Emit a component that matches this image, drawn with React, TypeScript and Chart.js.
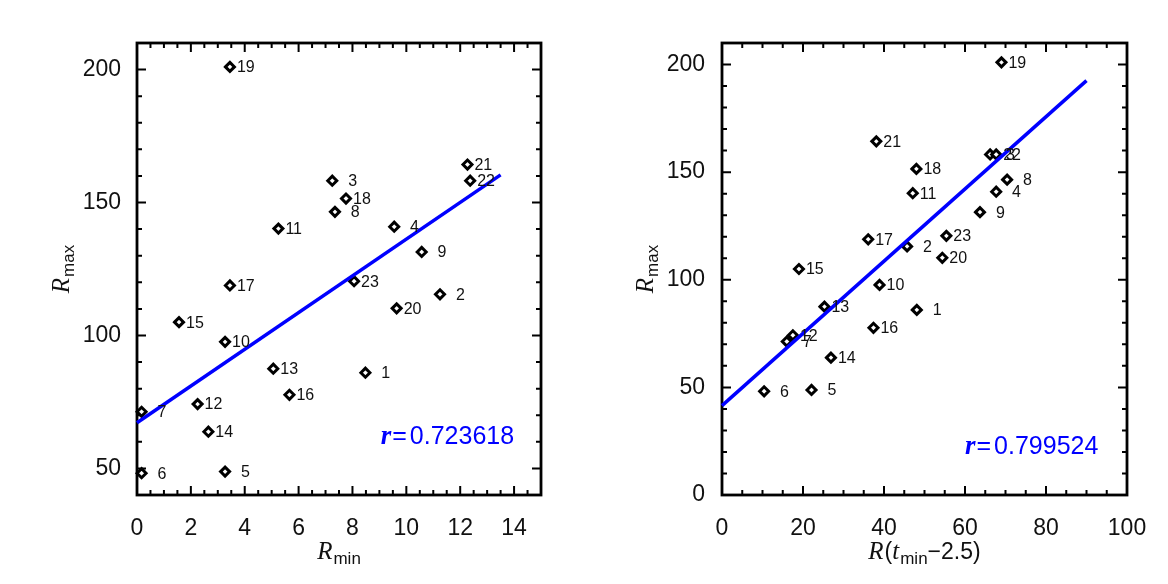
import React, { useEffect, useRef } from 'react';
import { Chart, registerables } from 'chart.js';

Chart.register(...registerables);

// ---- data ----
const eventIds = [1, 2, 3, 4, 5, 6, 7, 8, 9, 10, 11, 12, 13, 14, 15, 16, 17, 18, 19, 20, 21, 22, 23];
const rMax = [86.0, 115.5, 158.2, 140.9, 48.8, 48.2, 71.3, 146.5, 131.4, 97.6, 140.2, 74.2, 87.5, 63.8, 105.0, 77.7, 118.8, 151.5, 201.0, 110.2, 164.3, 158.2, 120.4];
const rMin = [8.48, 11.25, 7.25, 9.55, 3.27, 0.17, 0.17, 7.35, 10.57, 3.27, 5.25, 2.25, 5.06, 2.65, 1.56, 5.66, 3.45, 7.76, 3.45, 9.64, 12.27, 12.37, 8.06];
const rTmin = [48.1, 45.7, 66.2, 67.7, 22.1, 10.4, 16.0, 70.4, 63.7, 38.9, 47.1, 17.5, 25.3, 26.9, 19.0, 37.4, 36.1, 48.0, 69.0, 54.4, 38.1, 67.7, 55.4];

const leftFitX = [0, 13.5];
const leftFitY = [67.2, 160.4];
const rightFitX = [0, 90];
const rightFitY = [41.5, 192.5];

const leftXTicks = [0, 2, 4, 6, 8, 10, 12, 14];
const leftYTicks = [50, 100, 150, 200];
const rightXTicks = [0, 20, 40, 60, 80, 100];
const rightYTicks = [0, 50, 100, 150, 200];

const leftR = '0.723618';
const rightR = '0.799524';

// ---- styles ----
const BLUE = '#0000ff';
const SANS = '"Liberation Sans", Arial, sans-serif';
const SERIF = '"Liberation Serif", "Times New Roman", serif';
const TICK_FONT = 23;
const TEXT_COLOR = '#111';

type Part = { text: string; font: string; dy?: number; gap?: number };

function drawRich(ctx: CanvasRenderingContext2D, parts: Part[], x: number, y: number, align: 'center' | 'left') {
  let total = 0;
  const widths: number[] = [];
  for (const p of parts) {
    ctx.font = p.font;
    const w = ctx.measureText(p.text).width;
    widths.push(w);
    total += w + (p.gap || 0);
  }
  let cx = align === 'center' ? x - total / 2 : x;
  ctx.textAlign = 'left';
  ctx.textBaseline = 'alphabetic';
  parts.forEach((p, i) => {
    ctx.font = p.font;
    ctx.fillText(p.text, cx, y + (p.dy || 0));
    cx += widths[i] + (p.gap || 0);
  });
}

type PanelCfg = {
  xs: number[];
  fitX: number[];
  fitY: number[];
  xMin: number; xMax: number; xMajor: number; xMinor: number;
  yMin: number; yMax: number; yMajor: number; yMinor: number;
  xTicks: number[]; yTicks: number[];
  yAxisWidth: number; padRight: number; yLabelPad: number;
  xTitle: Part[];
  rText: string; rPos: [number, number];
};

function makeChart(canvas: HTMLCanvasElement, cfg: PanelCfg) {
  const frame = {
    id: 'idlFrame',
    beforeDatasetsDraw(chart: any) {
      const { ctx, chartArea: a, scales } = chart;
      const sx = scales.x, sy = scales.y;
      ctx.save();
      ctx.strokeStyle = '#000';
      ctx.lineWidth = 2;
      const isMul = (v: number, m: number) => Math.abs(v / m - Math.round(v / m)) < 1e-6;
      const nX = Math.round((cfg.xMax - cfg.xMin) / cfg.xMinor);
      for (let i = 0; i <= nX; i++) {
        const v = cfg.xMin + i * cfg.xMinor;
        const len = isMul(v, cfg.xMajor) ? 9 : 5;
        const px = sx.getPixelForValue(v);
        ctx.beginPath();
        ctx.moveTo(px, a.bottom); ctx.lineTo(px, a.bottom - len);
        ctx.moveTo(px, a.top); ctx.lineTo(px, a.top + len);
        ctx.stroke();
      }
      const nY = Math.round((cfg.yMax - cfg.yMin) / cfg.yMinor);
      for (let i = 0; i <= nY; i++) {
        const v = cfg.yMin + i * cfg.yMinor;
        const len = isMul(v, cfg.yMajor) ? 9 : 5;
        const py = sy.getPixelForValue(v);
        ctx.beginPath();
        ctx.moveTo(a.left, py); ctx.lineTo(a.left + len, py);
        ctx.moveTo(a.right, py); ctx.lineTo(a.right - len, py);
        ctx.stroke();
      }
      ctx.lineWidth = 2.8;
      ctx.strokeRect(a.left, a.top, a.right - a.left, a.bottom - a.top);
      ctx.restore();
    },
    afterDatasetsDraw(chart: any) {
      const { ctx, chartArea: a, scales } = chart;
      const meta = chart.getDatasetMeta(1);
      ctx.save();
      ctx.fillStyle = TEXT_COLOR;
      ctx.font = `16px ${SANS}`;
      ctx.textAlign = 'left';
      ctx.textBaseline = 'middle';
      const dw = ctx.measureText('0').width;
      meta.data.forEach((pt: any, i: number) => {
        const id = eventIds[i];
        const off = 7 + (id < 10 ? dw : 0);
        ctx.fillText(String(id), pt.x + off, pt.y + 1);
      });
      // correlation text
      ctx.fillStyle = BLUE;
      const rx = scales.x.getPixelForValue(cfg.rPos[0]);
      const ry = scales.y.getPixelForValue(cfg.rPos[1]);
      drawRich(ctx, [
        { text: 'r', font: `italic bold 27px ${SERIF}`, gap: 1 },
        { text: '=', font: `25px ${SANS}`, gap: 3 },
        { text: cfg.rText, font: `25px ${SANS}` },
      ], rx, ry, 'left');
      // titles
      ctx.fillStyle = TEXT_COLOR;
      const cx = (a.left + a.right) / 2;
      drawRich(ctx, cfg.xTitle, cx, 559, 'center');
      ctx.translate(69, (a.top + a.bottom) / 2);
      ctx.rotate(-Math.PI / 2);
      drawRich(ctx, [
        { text: 'R', font: `italic 25px ${SERIF}`, gap: 1 },
        { text: 'max', font: `17px ${SANS}`, dy: 5 },
      ], 0, 0, 'center');
      ctx.restore();
    },
  };

  const linePts = cfg.fitX.map((x, i) => ({ x, y: cfg.fitY[i] }));
  const pts = cfg.xs.map((x, i) => ({ x, y: rMax[i] }));

  return new Chart(canvas, {
    type: 'scatter',
    data: {
      datasets: [
        {
          type: 'line',
          data: linePts,
          borderColor: BLUE,
          borderWidth: 3.5,
          pointRadius: 0,
          showLine: true,
          fill: false,
          clip: false,
        } as any,
        {
          data: pts,
          pointStyle: 'rectRot',
          pointRadius: 4.5,
          pointBorderWidth: 3,
          pointBorderColor: '#000',
          pointBackgroundColor: '#fff',
          clip: false,
        } as any,
      ],
    },
    options: {
      responsive: false,
      animation: false,
      events: [],
      layout: { padding: { left: 0, right: cfg.padRight, top: 43, bottom: 0 } },
      plugins: { legend: { display: false }, tooltip: { enabled: false } },
      scales: {
        x: {
          type: 'linear',
          min: cfg.xMin,
          max: cfg.xMax,
          grid: { display: false },
          border: { display: false },
          afterBuildTicks: (s: any) => { s.ticks = cfg.xTicks.map((v) => ({ value: v })); },
          afterFit: (s: any) => { s.height = 89; },
          ticks: {
            autoSkip: false,
            maxRotation: 0,
            padding: 12,
            color: TEXT_COLOR,
            font: { family: SANS, size: TICK_FONT },
            callback: (v: any) => String(v),
          },
        },
        y: {
          type: 'linear',
          min: cfg.yMin,
          max: cfg.yMax,
          grid: { display: false },
          border: { display: false },
          afterBuildTicks: (s: any) => { s.ticks = cfg.yTicks.map((v) => ({ value: v })); },
          afterFit: (s: any) => { s.width = cfg.yAxisWidth; },
          ticks: {
            autoSkip: false,
            padding: cfg.yLabelPad,
            color: TEXT_COLOR,
            font: { family: SANS, size: TICK_FONT },
            callback: (v: any) => String(v),
          },
        },
      },
    },
    plugins: [frame],
  } as any);
}

export default function App() {
  const leftRef = useRef<HTMLCanvasElement>(null);
  const rightRef = useRef<HTMLCanvasElement>(null);

  useEffect(() => {
    const c1 = makeChart(leftRef.current!, {
      xs: rMin,
      fitX: leftFitX, fitY: leftFitY,
      xMin: 0, xMax: 15, xMajor: 2, xMinor: 0.5,
      yMin: 40, yMax: 210, yMajor: 50, yMinor: 10,
      xTicks: leftXTicks, yTicks: leftYTicks,
      yAxisWidth: 137, padRight: 43, yLabelPad: 8,
      xTitle: [
        { text: 'R', font: `italic 25px ${SERIF}`, gap: 1 },
        { text: 'min', font: `17px ${SANS}`, dy: 5 },
      ],
      rText: leftR, rPos: [9.05, 59.2],
    });
    const c2 = makeChart(rightRef.current!, {
      xs: rTmin,
      fitX: rightFitX, fitY: rightFitY,
      xMin: 0, xMax: 100, xMajor: 20, xMinor: 5,
      yMin: 0, yMax: 210, yMajor: 50, yMinor: 10,
      xTicks: rightXTicks, yTicks: rightYTicks,
      yAxisWidth: 138, padRight: 41, yLabelPad: 9,
      xTitle: [
        { text: 'R', font: `italic 25px ${SERIF}`, gap: 1 },
        { text: '(', font: `23px ${SANS}` },
        { text: 't', font: `italic 25px ${SERIF}`, gap: 1 },
        { text: 'min', font: `17px ${SANS}`, dy: 5 },
        { text: '\u22122.5)', font: `23px ${SANS}` },
      ],
      rText: rightR, rPos: [60.0, 19.2],
    });
    return () => { c1.destroy(); c2.destroy(); };
  }, []);

  return (
    <div style={{ position: 'absolute', left: 0, top: 0, width: 1168, height: 584, background: '#fff' }}>
      <canvas ref={leftRef} width={584} height={584} style={{ position: 'absolute', left: 0, top: 0, width: 584, height: 584 }} />
      <canvas ref={rightRef} width={584} height={584} style={{ position: 'absolute', left: 584, top: 0, width: 584, height: 584 }} />
    </div>
  );
}
